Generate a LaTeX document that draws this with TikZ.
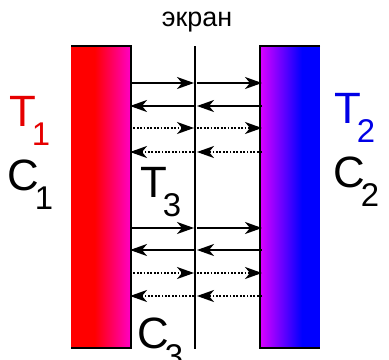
\documentclass[tikz,border=0pt]{standalone}
\usepackage{fontspec}
\setmainfont{Liberation Sans}
\usetikzlibrary{arrows.meta}
\definecolor{pinkend}{RGB}{255,0,200}
\definecolor{violetstart}{RGB}{220,0,255}
\definecolor{tred}{RGB}{230,0,0}
\definecolor{tblue}{RGB}{0,0,230}
\newcommand{\biglab}[2]{\fontsize{44}{44}\selectfont #1\kern-4bp\raisebox{-19bp}{\fontsize{33}{33}\selectfont #2}}
\begin{document}
\begin{tikzpicture}[x=1bp,y=-1bp,
  arr/.style={line width=1.8bp,-{Stealth[length=17bp,width=12bp,inset=5bp]}},
  darr/.style={arr,dash pattern=on 1.8bp off 1.6bp},
  edge/.style={line width=2.2bp,black},
  lab/.style={inner sep=0pt,anchor=base west}]
\useasboundingbox (0,0) rectangle (389,360);
% left slab
\fill[red] (71,46) rectangle (95,348);
\shade[left color=red,right color=pinkend] (94.5,46) rectangle (131,348);
\draw[edge] (71,46) -- (131,46) -- (131,348) -- (71,348);
% right slab
\shade[left color=violetstart,right color=blue] (260,46) rectangle (302,348);
\fill[blue] (301.5,46) rectangle (320,348);
\draw[edge] (320,46) -- (260,46) -- (260,348) -- (320,348);
% screen
\coordinate (st) at (195,46);
\coordinate (sb) at (195,349);
\draw[line width=2.2bp] (st) -- (sb);
\node[inner sep=0pt] (ekran) at (197,22) {\fontsize{27}{27}\selectfont экран};
% arrow endpoints
\foreach \y/\n in {83/a,106/b,128/c,152/d,228/e,250/f,273/g,296/h}{
  \coordinate (L\n) at (130,\y);
  \coordinate (Sl\n) at (194,\y);
  \coordinate (Sr\n) at (197,\y);
  \coordinate (R\n) at (262,\y);
}
\foreach \n in {a,e}{
  \draw[arr] (L\n) -- (Sl\n);
  \draw[arr] (Sr\n) -- (R\n);
}
\foreach \n in {b,f}{
  \draw[arr] (Sl\n) -- (L\n);
  \draw[arr] (R\n) -- (Sr\n);
}
\foreach \n in {c,g}{
  \draw[darr] (L\n) -- (Sl\n);
  \draw[darr] (Sr\n) -- (R\n);
}
\foreach \n in {d,h}{
  \draw[darr] (Sl\n) -- (L\n);
  \draw[darr] (R\n) -- (Sr\n);
}
% labels
\node[lab,text=tred] (T1) at (9,126) {\biglab{T}{1}};
\node[lab] (C1) at (7,190) {\biglab{C}{1}};
\node[lab,text=tblue] (T2) at (334,123) {\biglab{T}{2}};
\node[lab] (C2) at (333,187) {\biglab{C}{2}};
\node[lab] (T3) at (140,197) {\biglab{T}{3}};
\node[lab] (C3) at (137,348) {\biglab{C}{3}};
\end{tikzpicture}
\end{document}
